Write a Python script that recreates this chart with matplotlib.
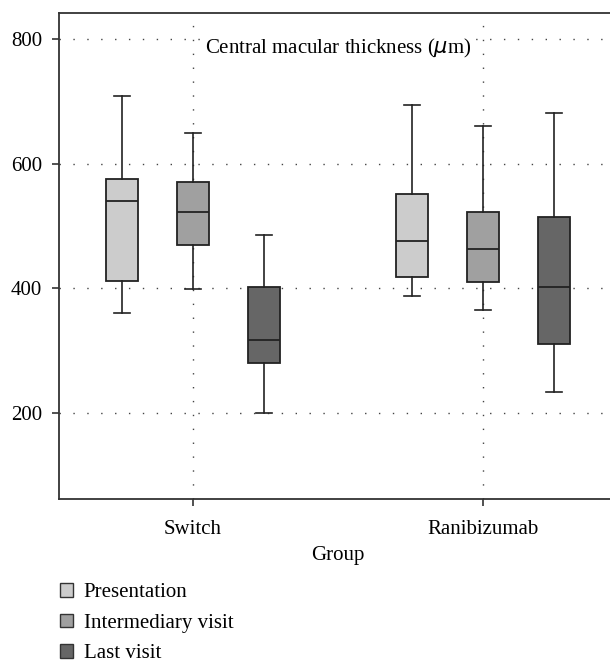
import numpy as np
import matplotlib.pyplot as plt
from matplotlib.patches import Patch

plt.rcParams['font.family'] = ['Liberation Serif', 'DejaVu Serif']

groups = ['Switch', 'Ranibizumab']
visits = ['Presentation', 'Intermediary visit', 'Last visit']
colors = ['#cccccc', '#a0a0a0', '#666666']

# box stats: whisker low, Q1, median, Q3, whisker high
whislo = [[361, 399, 200], [388, 366, 233]]
q1 = [[412, 469, 281], [418, 410, 310]]
med = [[541, 522, 317], [476, 463, 403]]
q3 = [[575, 571, 402], [551, 522, 515]]
whishi = [[709, 649, 485], [694, 661, 681]]

yticks = [200, 400, 600, 800]

fig = plt.figure(figsize=(6.1, 6.63), dpi=100)
ax = fig.add_axes([59 / 610, 1 - 499 / 663, 558 / 610, 486 / 663])

offsets = [-0.245, 0.0, 0.245]
for g in range(len(groups)):
    for v in range(len(visits)):
        stats = [{'whislo': whislo[g][v], 'q1': q1[g][v], 'med': med[g][v],
                  'q3': q3[g][v], 'whishi': whishi[g][v], 'fliers': []}]
        ax.bxp(stats, positions=[g + offsets[v]], widths=0.109,
               patch_artist=True, showfliers=False,
               boxprops=dict(facecolor=colors[v], edgecolor='#222222', linewidth=1.3),
               medianprops=dict(color='#222222', linewidth=1.3),
               whiskerprops=dict(color='#222222', linewidth=1.2),
               capprops=dict(color='#222222', linewidth=1.2),
               capwidths=0.055, zorder=3)

ax.set_xlim(-0.462, 1.462)
ax.set_ylim(62, 842)
ax.set_xticks(range(len(groups)))
ax.set_xticklabels(groups)
ax.set_yticks(yticks)
ax.set_xlabel('Group', fontsize=15, labelpad=5)
ax.tick_params(labelsize=15, length=5, width=1.2, color='#333333')
ax.tick_params(axis='x', pad=10)
ax.tick_params(axis='y', pad=7)
ax.grid(True, color='#444444', linestyle=(0, (1, 9)), linewidth=1.0)
ax.set_axisbelow(True)
for s in ['left', 'bottom', 'top']:
    ax.spines[s].set_linewidth(1.3)
    ax.spines[s].set_color('#333333')
ax.spines['right'].set_visible(False)

ax.text(0.5, 0.926, 'Central macular thickness ($\\mu$m)', transform=ax.transAxes,
        ha='center', va='center', fontsize=15,
        bbox=dict(facecolor='white', edgecolor='none', pad=1))

handles = [Patch(facecolor=c, edgecolor='#333333', linewidth=1.0) for c in colors]
fig.legend(handles, visits, loc='upper left', bbox_to_anchor=(60 / 610, 1 - 583 / 663),
           frameon=False, fontsize=15, handlelength=0.63, handleheight=0.63,
           handletextpad=0.5, labelspacing=0.55, borderpad=0, borderaxespad=0)

fig.savefig('out.png', dpi=100)
